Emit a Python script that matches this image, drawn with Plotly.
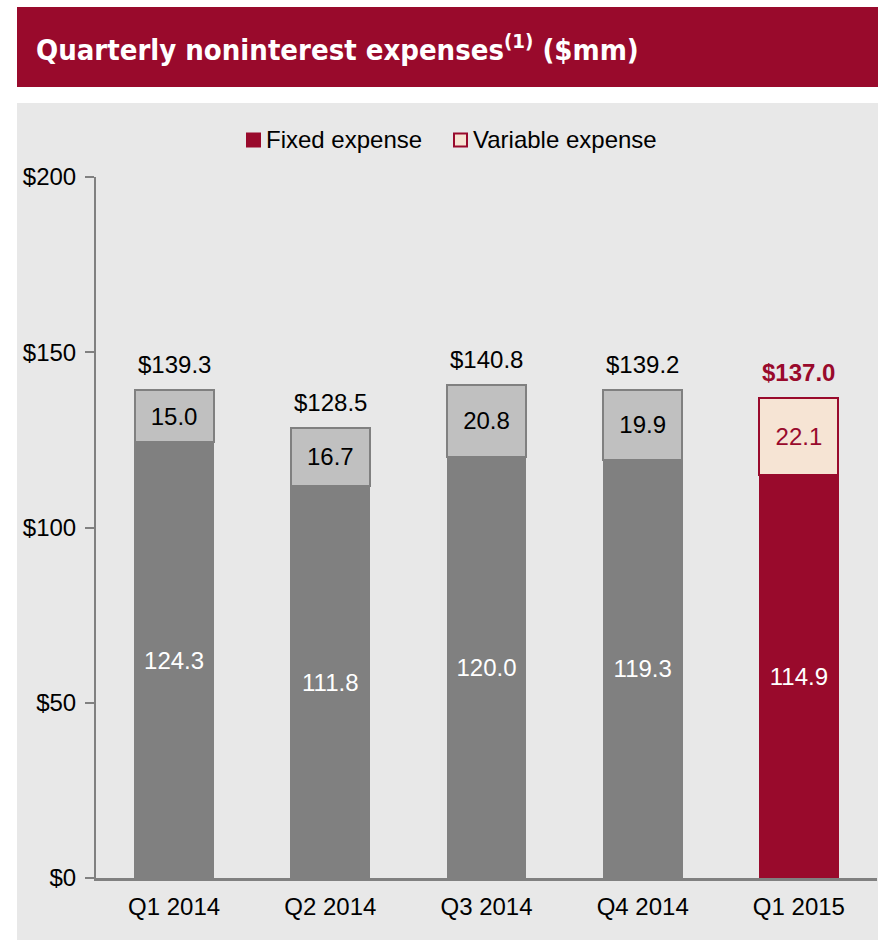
import plotly.graph_objects as go

quarters = ["Q1 2014", "Q2 2014", "Q3 2014", "Q4 2014", "Q1 2015"]
fixed = [124.3, 111.8, 120.0, 119.3, 114.9]
variable = [15.0, 16.7, 20.8, 19.9, 22.1]
totals = [139.3, 128.5, 140.8, 139.2, 137.0]
y_ticks = [0, 50, 100, 150, 200]
y_tick_labels = ["$0", "$50", "$100", "$150", "$200"]
series_names = ["Fixed expense", "Variable expense"]

RED = "#990A2C"
DARK_GRAY = "#808080"
LIGHT_GRAY = "#C0C0C0"
CREAM = "#F6E4D4"
PANEL = "#E8E8E8"
FONT = "Liberation Sans, Arial, sans-serif"
FS = 24

hist_q = quarters[:4]
cur_q = quarters[4:]

fig = go.Figure()

def add_bar(x, y, fill, edge, ew, tcolor):
    fig.add_trace(go.Bar(
        x=x, y=y, showlegend=False,
        marker=dict(color=fill, line=dict(color=edge, width=ew)),
        text=[f"{v:.1f}" for v in y], textposition="inside",
        insidetextanchor="middle", textangle=0,
        textfont=dict(color=tcolor, size=FS, family=FONT),
        hoverinfo="skip",
    ))

add_bar(hist_q, fixed[:4], DARK_GRAY, DARK_GRAY, 1, "white")
add_bar(cur_q, fixed[4:], RED, RED, 1, "white")
add_bar(hist_q, variable[:4], LIGHT_GRAY, DARK_GRAY, 2, "black")
add_bar(cur_q, variable[4:], CREAM, RED, 2, RED)

W, H = 878, 945
L, R, T, B = 96, 1, 177, 67
pw, ph = W - L - R, H - T - B

def px_x(x):
    return (x - L) / pw

def px_y(y):
    return 1 - (y - T) / ph

annotations = []
for i, (q, t) in enumerate(zip(quarters, totals)):
    last = i == len(quarters) - 1
    annotations.append(dict(
        x=q, y=t, xref="x", yref="y", showarrow=False,
        yanchor="bottom", yshift=10,
        text=f"<b>${t:.1f}</b>" if last else f"${t:.1f}",
        font=dict(size=FS, family=FONT, color=RED if last else "black"),
    ))

annotations.append(dict(
    xref="paper", yref="paper", x=px_x(34), y=px_y(48),
    xanchor="left", yanchor="middle", showarrow=False,
    text="<b>Quarterly noninterest expenses<sup>(1)</sup> ($mm)</b>",
    font=dict(color="white", size=29,
              family="DejaVu Sans Condensed, Liberation Sans Narrow, Arial Narrow, sans-serif"),
))

# Legend (manual, to match marker size/spacing)
legend_marker_x = [246, 453]
legend_text_x = [264, 471]
legend_y = 140
shapes = [
    dict(type="rect", xref="paper", yref="paper", layer="below",
         x0=px_x(17), x1=px_x(878), y0=px_y(940), y1=px_y(103),
         fillcolor=PANEL, line=dict(width=0)),
    dict(type="rect", xref="paper", yref="paper", layer="below",
         x0=px_x(17), x1=px_x(878), y0=px_y(87), y1=px_y(7),
         fillcolor=RED, line=dict(width=0)),
    dict(type="rect", xref="paper", yref="paper",
         x0=px_x(legend_marker_x[0]), x1=px_x(legend_marker_x[0] + 15),
         y0=px_y(legend_y + 7.5), y1=px_y(legend_y - 7.5),
         fillcolor=RED, line=dict(width=0)),
    dict(type="rect", xref="paper", yref="paper",
         x0=px_x(legend_marker_x[1] + 1), x1=px_x(legend_marker_x[1] + 14),
         y0=px_y(legend_y + 6.5), y1=px_y(legend_y - 6.5),
         fillcolor=CREAM, line=dict(width=2, color=RED)),
]
for name, tx in zip(series_names, legend_text_x):
    annotations.append(dict(
        xref="paper", yref="paper", x=px_x(tx), y=px_y(legend_y),
        xanchor="left", yanchor="middle", showarrow=False,
        text=name, font=dict(size=FS, family=FONT, color="black"),
    ))

fig.update_layout(
    width=W, height=H,
    margin=dict(l=L, r=R, t=T, b=B, pad=0),
    paper_bgcolor="white",
    plot_bgcolor=PANEL,
    barmode="stack",
    bargap=0.495,
    showlegend=False,
    font=dict(family=FONT, size=FS, color="black"),
    xaxis=dict(
        showgrid=False, zeroline=False, showline=True,
        linecolor=DARK_GRAY, linewidth=3, ticks="",
        tickfont=dict(size=FS, family=FONT), ticklabelstandoff=5,
        range=[-0.5, 4.5],
    ),
    yaxis=dict(
        range=[0, 200], tickvals=y_ticks, ticktext=y_tick_labels,
        showgrid=False, zeroline=False, showline=True,
        linecolor=DARK_GRAY, linewidth=2, ticks="outside",
        ticklen=9, tickcolor=DARK_GRAY, tickwidth=2,
        tickfont=dict(size=FS, family=FONT), ticklabelstandoff=4,
    ),
    shapes=shapes,
    annotations=annotations,
)

fig.write_html("out.html")
